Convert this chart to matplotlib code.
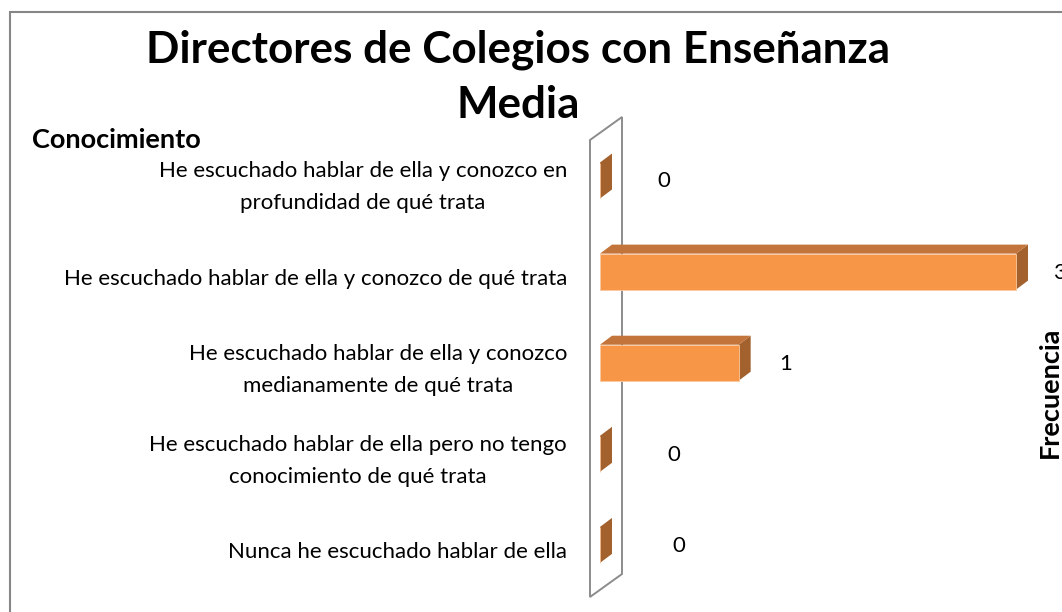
import matplotlib
matplotlib.use('Agg')
import matplotlib.pyplot as plt
from matplotlib.patches import Polygon, Rectangle
import matplotlib.transforms as mtransforms

# ---------------- data ----------------
categories = [
    "He escuchado hablar de ella y conozco en\nprofundidad de qué trata",
    "He escuchado hablar de ella y conozco de qué trata",
    "He escuchado hablar de ella y conozco\nmedianamente de qué trata",
    "He escuchado hablar de ella pero no tengo\nconocimiento de qué trata",
    "Nunca he escuchado hablar de ella",
]
values = [0, 3, 1, 0, 0]
title = "Directores de Colegios con Enseñanza\nMedia"
cat_axis_title = "Conocimiento"
val_axis_title = "Frecuencia"

# ---------------- layout / style ----------------
W, H, DPI = 1062, 612, 100
plt.rcParams['font.family'] = ['Lato', 'DejaVu Sans']
fig = plt.figure(figsize=(W / DPI, H / DPI), dpi=DPI)

x0_px = 600.0        # pixel x of value 0 (front face)
px_per_unit = 138.67
y0_px = 180.5        # pixel y (from top) of first category
px_per_cat = 91.1
xlim = (-0.2, 3.35)
ylim = (4.75, -0.8)
left = x0_px + xlim[0] * px_per_unit
right = x0_px + xlim[1] * px_per_unit
top = y0_px + ylim[1] * px_per_cat
bottom = y0_px + ylim[0] * px_per_cat
ax = fig.add_axes([left / W, 1 - bottom / H, (right - left) / W, (bottom - top) / H])
ax.set_xlim(*xlim)
ax.set_ylim(*ylim)
ax.axis('off')

front_col = '#F79646'
top_col = '#C3743A'
side_col = '#A3612D'
wall_col = '#8C8C8C'

bar_h = 0.395
dx = 12 / px_per_unit
dy = 9 / px_per_cat

# wall (value-axis plane)
wx = -10 / px_per_unit
wy_top = (140 - y0_px) / px_per_cat
wy_bot = (597 - y0_px) / px_per_cat
wdx = 32 / px_per_unit
wdy = 23 / px_per_cat
wall = Polygon([(wx, wy_top), (wx, wy_bot), (wx + wdx, wy_bot - wdy), (wx + wdx, wy_top - wdy)],
               closed=True, facecolor='white', edgecolor=wall_col, lw=1.4, clip_on=False, zorder=1)
ax.add_patch(wall)

for i, v in enumerate(values):
    yt = i - bar_h / 2
    yb = i + bar_h / 2
    side = Polygon([(v, yt), (v, yb), (v + dx, yb - dy), (v + dx, yt - dy)], closed=True,
                   facecolor=side_col, edgecolor='none', clip_on=False, zorder=3)
    ax.add_patch(side)
    if v > 0:
        topf = Polygon([(0, yt), (v, yt), (v + dx, yt - dy), (dx, yt - dy)], closed=True,
                       facecolor=top_col, edgecolor='none', clip_on=False, zorder=3)
        ax.add_patch(topf)
    ax.barh(i, v, height=bar_h, left=0, color=front_col, edgecolor='#FAC9A0', lw=0.6,
            zorder=4, clip_on=False)

# value labels
label_dx_px = [52, 31, 35, 62, 67]
for i, v in enumerate(values):
    tr = mtransforms.offset_copy(ax.transData, fig=fig, x=label_dx_px[i], y=-1, units='dots')
    ax.text(v + dx, i, str(v), transform=tr, ha='center', va='center',
            fontsize=16, color='black', clip_on=False)

# category labels
for i, c in enumerate(categories):
    tr = mtransforms.offset_copy(ax.transData, fig=fig, x=-33, y=-7, units='dots')
    ax.text(0, i, c, transform=tr, ha='right', va='center', multialignment='center',
            fontsize=16, color='black', linespacing=1.75)

# titles
fig.text(518 / W, 1 - 77 / H, title, ha='center', va='center', fontsize=31.7,
         fontweight='bold', linespacing=1.46)
fig.text(32 / W, 1 - 140 / H, cat_axis_title, ha='left', va='center', fontsize=19.5,
         fontweight='bold')
fig.text(1050 / W, 1 - 392 / H, val_axis_title, ha='center', va='center', rotation=90,
         fontsize=19.5, fontweight='bold')

# chart border
border = Rectangle((10 / W, -0.2), 1.5, 1.2 - 12 / H, transform=fig.transFigure,
                   facecolor='none', edgecolor='#868686', lw=1.5)
fig.patches.append(border)

fig.savefig('out.png', dpi=DPI)
